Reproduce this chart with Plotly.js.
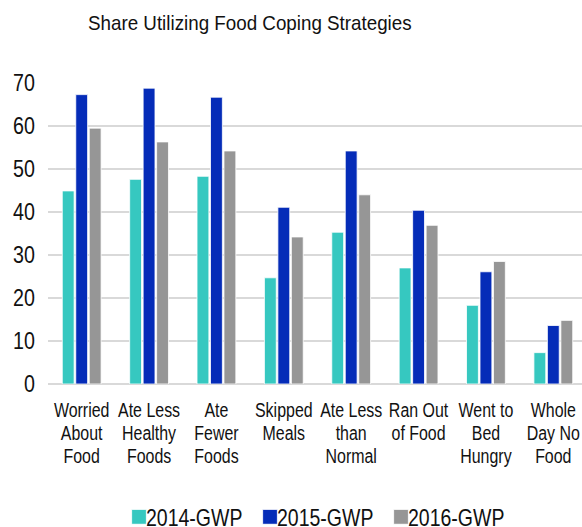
<!DOCTYPE html>
<html>
<head>
<meta charset="utf-8">
<script src="https://cdn.plot.ly/plotly-3.0.1.min.js"></script>
<style>
html, body { margin: 0; padding: 0; overflow: hidden; background: #fff; }
#chart { width: 587px; height: 527px; }
</style>
</head>
<body>
<div id="chart"></div>
<script>
const categories = [
  "Worried<br>About<br>Food",
  "Ate Less<br>Healthy<br>Foods",
  "Ate<br>Fewer<br>Foods",
  "Skipped<br>Meals",
  "Ate Less<br>than<br>Normal",
  "Ran Out<br>of Food",
  "Went to<br>Bed<br>Hungry",
  "Whole<br>Day No<br>Food"
];
const seriesNames = ["2014-GWP", "2015-GWP", "2016-GWP"];
const values2014 = [44.9, 47.6, 48.3, 24.7, 35.3, 27.0, 18.3, 7.3];
const values2015 = [67.3, 68.8, 66.7, 41.1, 54.2, 40.4, 26.1, 13.6];
const values2016 = [59.5, 56.3, 54.2, 34.2, 44.0, 36.9, 28.5, 14.8];
const yTicks = [0, 10, 20, 30, 40, 50, 60, 70];

const colors = ["#36c8c0", "#052cb8", "#969696"];
const FONT = "Liberation Sans, Arial, Helvetica, sans-serif";

const allValues = [values2014, values2015, values2016];
const traces = allValues.map((vals, i) => ({
  type: "bar",
  name: seriesNames[i],
  x: categories,
  y: vals,
  marker: { color: colors[i], line: { color: "rgba(255,255,255,0.8)", width: 1 } },
  hoverinfo: "y+name"
}));

const layout = {
  width: 587,
  height: 527,
  margin: { l: 48, r: 0, t: 83, b: 143 },
  paper_bgcolor: "#ffffff",
  plot_bgcolor: "#ffffff",
  font: { family: FONT, color: "#111111" },
  title: {
    text: "Share Utilizing Food Coping Strategies",
    font: { family: FONT, size: 20, color: "#111111" },
    xref: "container", yref: "container",
    x: 88 / 587, xanchor: "left",
    y: 1 - 23 / 527, yanchor: "middle"
  },
  barmode: "group",
  bargap: 0.4,
  bargroupgap: 0.12,
  xaxis: {
    type: "category",
    tickfont: { family: FONT, size: 21, color: "#111111" },
    tickangle: 0,
    showgrid: false,
    showline: false,
    ticks: "",
    ticklabelstandoff: 11,
    fixedrange: true
  },
  yaxis: {
    range: [0, 70],
    tickvals: yTicks,
    ticktext: yTicks.map(String),
    tickfont: { family: FONT, size: 24, color: "#111111" },
    showgrid: true,
    gridcolor: "#d9d9d9",
    gridwidth: 1.5,
    zeroline: true,
    zerolinecolor: "#d9d9d9",
    zerolinewidth: 1.5,
    showline: false,
    ticks: "",
    ticklabelstandoff: 12,
    fixedrange: true
  },
  showlegend: true,
  legend: {
    orientation: "h",
    xref: "container", yref: "container",
    x: 119 / 587, xanchor: "left",
    y: 1 - 517 / 527, yanchor: "middle",
    font: { family: FONT, size: 23.5, color: "#111111" },
    itemwidth: 30,
    entrywidth: 86,
    entrywidthmode: "pixels",
    traceorder: "normal"
  }
};

function squeeze(nodes, k) {
  nodes.forEach(t => {
    const x = parseFloat(t.getAttribute("x")) || 0;
    const tr = t.getAttribute("transform") || "";
    t.setAttribute("transform", tr + " translate(" + x + ",0) scale(" + k + ",1) translate(" + (-x) + ",0)");
  });
}

Plotly.newPlot("chart", traces, layout, { displayModeBar: false, staticPlot: true }).then(() => {
  const root = document.getElementById("chart");
  root.querySelectorAll(".xtick text tspan.line").forEach(ts => {
    const dy = ts.getAttribute("dy");
    if (dy && parseFloat(dy) > 0) ts.setAttribute("dy", (parseFloat(dy) * 1.1 / 1.3).toFixed(3) + "em");
  });
  squeeze(root.querySelectorAll(".xtick text"), 0.76);
  squeeze(root.querySelectorAll(".ytick text"), 0.82);
  squeeze(root.querySelectorAll("text.gtitle"), 0.94);
  root.querySelectorAll(".legendtext").forEach(t => {
    t.setAttribute("x", 27);
    t.querySelectorAll("tspan").forEach(ts => { if (ts.getAttribute("x") !== null) ts.setAttribute("x", 27); });
  });
  squeeze(root.querySelectorAll(".legendtext"), 0.83);
  root.querySelectorAll(".legendpoints path").forEach(p => {
    const tr = p.getAttribute("transform") || "";
    p.setAttribute("transform", tr + " scale(1.25)");
  });
  root.querySelectorAll(".legend [clip-path], .legend[clip-path]").forEach(e => e.removeAttribute("clip-path"));
});
</script>
</body>
</html>
